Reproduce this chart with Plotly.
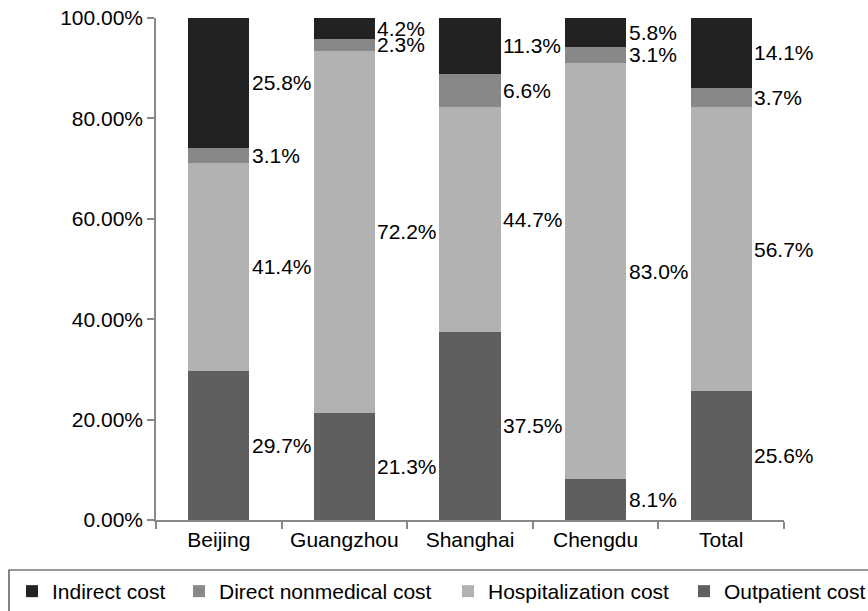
import plotly.graph_objects as go

categories = ["Beijing", "Guangzhou", "Shanghai", "Chengdu", "Total"]
outpatient = [29.7, 21.3, 37.5, 8.1, 25.6]
hospitalization = [41.4, 72.2, 44.7, 83.0, 56.7]
direct_nonmedical = [3.1, 2.3, 6.6, 3.1, 3.7]
indirect = [25.8, 4.2, 11.3, 5.8, 14.1]

y_tickvals = [0, 20, 40, 60, 80, 100]
y_ticktext = ["0.00%", "20.00%", "40.00%", "60.00%", "80.00%", "100.00%"]

# (name, values, colour, legend id) -- stacked bottom to top
series = [
    ("Outpatient cost", outpatient, "#5f5f5f", "legend4"),
    ("Hospitalization cost", hospitalization, "#b2b2b2", "legend3"),
    ("Direct nonmedical cost", direct_nonmedical, "#888888", "legend2"),
    ("Indirect cost", indirect, "#222222", "legend"),
]

FONT = "Liberation Sans, Arial, sans-serif"
FS = 21
BAR_W = 0.486

W, H = 868, 611
L, R, T, B = 156, 84, 18, 91
PW = W - L - R
PH = H - T - B


def px_x(px):
    return (px - L) / PW


def px_y(py):
    return (H - B - py) / PH


fig = go.Figure()
for name, vals, color, leg in series:
    fig.add_trace(go.Bar(
        x=categories, y=vals, name=name, width=BAR_W,
        marker=dict(color=color, line=dict(width=0)),
        legend=leg,
    ))

# data labels to the right of each segment, centred on the segment
base = [0.0] * len(categories)
annotations = []
for name, vals, color, leg in series:
    for i, (c, v) in enumerate(zip(categories, vals)):
        annotations.append(dict(
            x=c, y=base[i] + v / 2, xref="x", yref="y",
            text=f"{v:.1f}%", showarrow=False,
            xanchor="left", yanchor="middle", xshift=31,
            font=dict(family=FONT, size=FS, color="#000000"),
        ))
        base[i] += v

legend_left_px = {"legend": 12, "legend2": 179, "legend3": 448, "legend4": 684}
legend_top_px = 571


def legend_cfg(key):
    return dict(
        orientation="h",
        x=px_x(legend_left_px[key]), xanchor="left",
        y=px_y(legend_top_px), yanchor="top",
        font=dict(family=FONT, size=FS, color="#000000"),
        bgcolor="rgba(0,0,0,0)", borderwidth=0,
    )


fig.update_layout(
    width=W, height=H,
    margin=dict(l=L, r=R, t=T, b=B, autoexpand=False),
    paper_bgcolor="white", plot_bgcolor="white",
    barmode="stack",
    font=dict(family=FONT, size=FS, color="#000000"),
    annotations=annotations,
    showlegend=True,
    legend=legend_cfg("legend"),
    legend2=legend_cfg("legend2"),
    legend3=legend_cfg("legend3"),
    legend4=legend_cfg("legend4"),
    shapes=[dict(
        type="rect", xref="paper", yref="paper",
        x0=px_x(9), x1=px_x(W + 40),
        y0=px_y(570), y1=px_y(H + 40),
        line=dict(color="#333333", width=1.2), fillcolor="rgba(0,0,0,0)",
        layer="above",
    )],
)

fig.update_xaxes(
    type="category", range=[-0.5, 4.5],
    showline=True, linecolor="#888888", linewidth=1.5,
    ticks="outside", tickson="boundaries", ticklen=7,
    tickcolor="#888888", tickwidth=1.5,
    showgrid=False, zeroline=False,
    tickfont=dict(family=FONT, size=FS, color="#000000"),
)
fig.update_yaxes(
    range=[0, 100], tickvals=y_tickvals, ticktext=y_ticktext,
    showline=True, linecolor="#888888", linewidth=1.5,
    ticks="outside", ticklen=7, tickcolor="#888888", tickwidth=1.5,
    showgrid=False, zeroline=False, ticklabeloverflow="allow",
    tickfont=dict(family=FONT, size=FS, color="#000000"),
)

fig.write_html(
    "out.html",
    config={"displayModeBar": False},
    post_script="document.body.style.margin='0';document.body.style.overflow='hidden';",
)
